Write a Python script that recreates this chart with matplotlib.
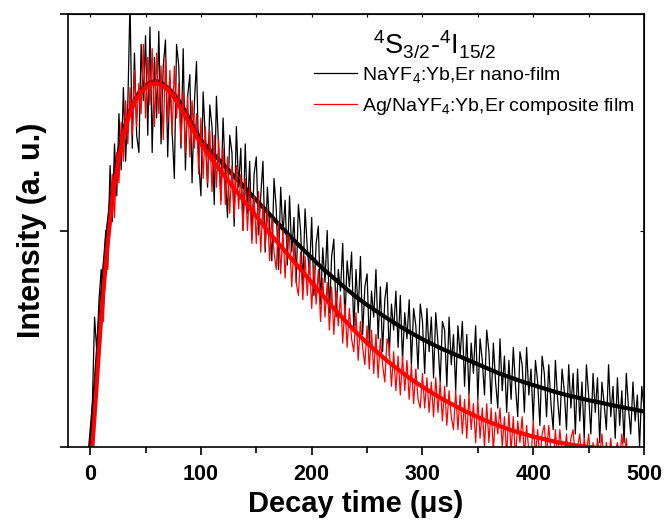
import matplotlib.pyplot as plt
import numpy as np

plt.rcParams['font.family'] = ['Liberation Sans', 'DejaVu Sans']
plt.rcParams['mathtext.fontset'] = 'custom'
plt.rcParams['mathtext.rm'] = 'Liberation Sans'
plt.rcParams['mathtext.default'] = 'regular'

# measured decay (2 us sampling)
t_step = 2
black_data = [
    0.00, 0.10, 0.30, 0.22, 0.34,
    0.41, 0.35, 0.50, 0.46, 0.65,
    0.52, 0.70, 0.58, 0.77, 0.64,
    0.83, 0.66, 0.79, 1.03, 0.69,
    0.91, 0.72, 0.68, 0.93, 0.80,
    0.95, 0.72, 0.97, 0.68, 0.90,
    0.76, 0.96, 0.70, 0.88, 0.94,
    0.67, 0.85, 0.73, 0.62, 0.93,
    0.88, 0.69, 0.92, 0.64, 0.81,
    0.86, 0.61, 0.79, 0.89, 0.66,
    0.58, 0.82, 0.71, 0.60, 0.79,
    0.74, 0.56, 0.81, 0.69, 0.57,
    0.76, 0.63, 0.53, 0.72, 0.68,
    0.51, 0.74, 0.60, 0.69, 0.50,
    0.70, 0.54, 0.66, 0.48, 0.63,
    0.67, 0.49, 0.58, 0.66, 0.45,
    0.60, 0.51, 0.43, 0.62, 0.55,
    0.41, 0.60, 0.49, 0.57, 0.42,
    0.58, 0.45, 0.53, 0.38, 0.56,
    0.50, 0.37, 0.55, 0.46, 0.40,
    0.53, 0.35, 0.47, 0.51, 0.33,
    0.46, 0.38, 0.50, 0.31, 0.44,
    0.48, 0.30, 0.41, 0.36, 0.47,
    0.29, 0.43, 0.37, 0.45, 0.27,
    0.41, 0.31, 0.44, 0.26, 0.37,
    0.40, 0.24, 0.36, 0.30, 0.41,
    0.25, 0.37, 0.22, 0.34, 0.38,
    0.21, 0.33, 0.27, 0.36, 0.23,
    0.35, 0.20, 0.31, 0.25, 0.34,
    0.19, 0.32, 0.28, 0.18, 0.33,
    0.29, 0.17, 0.32, 0.22, 0.30,
    0.16, 0.31, 0.24, 0.15, 0.29,
    0.27, 0.14, 0.30, 0.19, 0.26,
    0.13, 0.28, 0.21, 0.29, 0.14,
    0.26, 0.12, 0.24, 0.17, 0.28,
    0.11, 0.25, 0.20, 0.12, 0.27,
    0.22, 0.10, 0.24, 0.15, 0.09,
    0.25, 0.13, 0.21, 0.08, 0.20,
    0.11, 0.23, 0.14, 0.07, 0.22,
    0.19, 0.08, 0.23, 0.12, 0.18,
    0.06, 0.20, 0.15, 0.05, 0.21,
    0.17, 0.07, 0.19, 0.10, 0.04,
    0.20, 0.11, 0.05, 0.18, 0.13,
    0.04, 0.19, 0.09, 0.17, 0.03,
    0.18, 0.06, 0.15, 0.02, 0.19,
    0.12, 0.03, 0.17, 0.08, 0.16,
    0.01, 0.15, 0.10, 0.04, 0.19,
    0.07, 0.14, 0.02, 0.16, 0.05,
    0.13, 0.01, 0.17, 0.09, 0.03,
    0.15, 0.06, 0.12, 0.00, 0.14,
    0.09,
]
red_data = [
    0.00, 0.01, 0.09, 0.13, 0.25,
    0.34, 0.29, 0.44, 0.41, 0.55,
    0.63, 0.53, 0.68, 0.61, 0.75,
    0.66, 0.80, 0.70, 0.83, 0.72,
    0.87, 0.74, 0.84, 0.77, 0.93,
    0.76, 0.90, 0.79, 0.92, 0.74,
    0.91, 0.77, 0.88, 0.71, 0.90,
    0.75, 0.87, 0.72, 0.88, 0.76,
    0.84, 0.70, 0.82, 0.68, 0.81,
    0.67, 0.80, 0.69, 0.77, 0.63,
    0.76, 0.62, 0.74, 0.61, 0.73,
    0.59, 0.72, 0.60, 0.71, 0.56,
    0.69, 0.56, 0.67, 0.54, 0.65,
    0.53, 0.65, 0.55, 0.63, 0.50,
    0.62, 0.50, 0.60, 0.47, 0.58,
    0.47, 0.59, 0.45, 0.56, 0.46,
    0.55, 0.43, 0.53, 0.45, 0.41,
    0.52, 0.40, 0.50, 0.39, 0.49,
    0.48, 0.37, 0.47, 0.38, 0.35,
    0.45, 0.34, 0.44, 0.35, 0.43,
    0.32, 0.42, 0.33, 0.41, 0.29,
    0.39, 0.30, 0.38, 0.27, 0.37,
    0.26, 0.36, 0.28, 0.35, 0.24,
    0.33, 0.23, 0.32, 0.25, 0.22,
    0.31, 0.20, 0.29, 0.23, 0.19,
    0.28, 0.18, 0.27, 0.17, 0.26,
    0.16, 0.25, 0.19, 0.15, 0.25,
    0.23, 0.14, 0.22, 0.13, 0.21,
    0.12, 0.21, 0.13, 0.20, 0.11,
    0.19, 0.10, 0.18, 0.11, 0.09,
    0.17, 0.09, 0.16, 0.08, 0.15,
    0.07, 0.16, 0.08, 0.15, 0.06,
    0.14, 0.05, 0.13, 0.07, 0.04,
    0.13, 0.04, 0.12, 0.03, 0.11,
    0.02, 0.12, 0.04, 0.10, 0.01,
    0.11, 0.02, 0.09, 0.00, 0.10,
    0.01, 0.09, -0.01, 0.08, 0.03,
    0.09, 0.00, 0.07, -0.02, 0.08,
    -0.01, 0.07, -0.03, 0.06, 0.01,
    0.07, -0.02, 0.05, -0.01, -0.03,
    0.06, -0.02, 0.04, -0.03, 0.03,
    0.05, -0.02, 0.05, -0.01, -0.04,
    0.04, -0.03, 0.04, -0.01, -0.02,
    0.03, -0.04, 0.02, 0.04, -0.03,
    0.00, 0.03, -0.04, 0.02, -0.02,
    0.03, -0.03, 0.01, -0.04, 0.02,
    -0.02, 0.03, -0.04, 0.01, -0.03,
    0.02, -0.04, -0.01, 0.01, -0.03,
    0.03, -0.03, 0.02, -0.04,
]

# fitted curves
black_fit_t = [0, 5, 10, 15, 20, 25, 30, 35, 40, 45, 50, 55, 60, 65, 70, 75, 80, 85, 90, 95, 100,
               110, 120, 130, 140, 150, 160, 170, 180, 190, 200, 210, 220, 230, 240, 250,
               260, 270, 280, 290, 300, 310, 320, 330, 340, 350, 360, 370, 380, 390, 400,
               410, 420, 430, 440, 450, 460, 470, 480, 490, 500]
black_fit = [0, 0.15, 0.33, 0.48, 0.59, 0.67, 0.73, 0.77, 0.80, 0.822, 0.836, 0.843, 0.845, 0.84,
             0.83, 0.817, 0.80, 0.779, 0.756, 0.732, 0.709,
             0.681, 0.653, 0.625, 0.598, 0.570, 0.543, 0.515, 0.488, 0.462, 0.437, 0.412,
             0.39, 0.368, 0.347, 0.328, 0.311, 0.294, 0.278, 0.263, 0.249, 0.236, 0.224,
             0.213, 0.202, 0.191, 0.18, 0.169, 0.16, 0.151, 0.143, 0.135, 0.127, 0.12,
             0.114, 0.108, 0.103, 0.097, 0.092, 0.087, 0.082]
red_fit_t = [2, 5, 10, 15, 20, 25, 30, 35, 40, 45, 50, 55, 60, 65, 70, 75, 80, 85, 90, 95, 100,
             110, 120, 130, 140, 150, 160, 170, 180, 190, 200, 210, 220, 230, 240, 250,
             260, 270, 280, 290, 300, 310, 320, 330, 340, 350, 360, 370, 380, 390, 400,
             410, 420, 430, 440, 450, 460]
red_fit = [0, 0.11, 0.30, 0.45, 0.57, 0.655, 0.72, 0.765, 0.795, 0.817, 0.83, 0.838, 0.84, 0.835,
           0.825, 0.81, 0.79, 0.768, 0.745, 0.722, 0.70,
           0.665, 0.63, 0.597, 0.565, 0.533, 0.50, 0.47, 0.44, 0.41, 0.38, 0.35, 0.32,
           0.292, 0.265, 0.24, 0.217, 0.195, 0.175, 0.156, 0.139, 0.123, 0.108, 0.094,
           0.081, 0.069, 0.058, 0.048, 0.039, 0.031, 0.024, 0.018, 0.012, 0.007, 0.003,
           0.0, -0.002]

black_t = np.arange(len(black_data)) * t_step
red_t = np.arange(len(red_data)) * t_step

fig = plt.figure(figsize=(6.64, 5.25), dpi=100)
ax = fig.add_axes([0.1024, 0.1486, 0.8675, 0.8247])

ax.plot(black_t, black_data, color='black', lw=0.9, label='NaYF$_4$:Yb,Er nano-film')
ax.plot(black_fit_t, black_fit, color='black', lw=3)
ax.plot(red_t, red_data, color='red', lw=0.9, label='Ag/NaYF$_4$:Yb,Er composite film')
ax.plot(red_fit_t, red_fit, color='red', lw=3)

ax.set_xlim(-20, 500)
ax.set_ylim(0, 1.0)
ax.set_xticks([0, 100, 200, 300, 400, 500])
ax.set_xticks([50, 150, 250, 350, 450], minor=True)
ax.set_yticks([0, 0.5, 1.0])
ax.set_yticklabels([])
ax.tick_params(axis='both', which='major', direction='out', length=6, width=1.2,
               labelsize=15.5, pad=6)
ax.tick_params(axis='x', which='minor', direction='out', length=4, width=1.2)
for lab in ax.get_xticklabels():
    lab.set_fontweight('bold')
for s in ax.spines.values():
    s.set_linewidth(1.2)

top = ax.secondary_xaxis('top')
top.set_xticks([0, 50, 100, 150, 200, 250, 300, 350, 400, 450, 500])
top.tick_params(direction='in', length=2, width=0.8, labeltop=False)
right = ax.secondary_yaxis('right')
right.set_yticks([0.5])
right.tick_params(direction='in', length=3, width=0.8, labelright=False)

ax.set_xlabel('Decay time (\u03bcs)', fontsize=21, fontweight='bold', labelpad=4)
ax.set_ylabel('Intensity (a. u.)', fontsize=22, fontweight='bold', labelpad=3)

ax.text(0.637, 0.928, '$^4$S$_{3/2}$-$^4$I$_{15/2}$', transform=ax.transAxes,
        fontsize=19.5, ha='center', va='center')
ax.legend(loc='upper left', bbox_to_anchor=(0.41, 0.905), frameon=False, fontsize=14,
          handlelength=2.2, handletextpad=0.25, labelspacing=0.55, borderpad=0)

fig.savefig('out.png', dpi=100)
